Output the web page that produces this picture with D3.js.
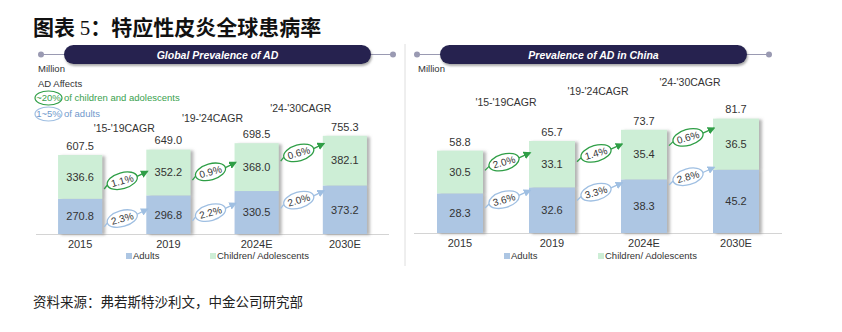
<!DOCTYPE html>
<html><head><meta charset="utf-8">
<script src="https://cdn.jsdelivr.net/npm/d3@7"></script>
<style>body{margin:0;background:#fff} svg{display:block}</style>
</head><body><svg id="c" width="842" height="332"></svg>
<script>
// ---------- data ----------
const years = ["2015", "2019", "2024E", "2030E"];
const cagrPeriods = ["'15-'19CAGR", "'19-'24CAGR", "'24-'30CAGR"];
const seriesNames = ["Adults", "Children/ Adolescents"];

const globalAdults = [270.8, 296.8, 330.5, 373.2];
const globalChildren = [336.6, 352.2, 368.0, 382.1];
const globalTotals = ["607.5", "649.0", "698.5", "755.3"];
const globalCagrChildren = ["1.1%", "0.9%", "0.6%"];
const globalCagrAdults = ["2.3%", "2.2%", "2.0%"];

const chinaAdults = [28.3, 32.6, 38.3, 45.2];
const chinaChildren = [30.5, 33.1, 35.4, 36.5];
const chinaTotals = ["58.8", "65.7", "73.7", "81.7"];
const chinaCagrChildren = ["2.0%", "1.4%", "0.6%"];
const chinaCagrAdults = ["3.6%", "3.3%", "2.8%"];

// ---------- style ----------
const C = {
  adults: "#adc6e3", children: "#cdeed6", green: "#2f9e46", blue: "#9fbfe2",
  navy: "#25234f", text: "#333333", axis: "#d4d4d4", connector: "#9a9ab2"
};
const LAT = "'Liberation Sans', Arial, sans-serif";
const CJK = "'Noto Sans CJK SC', sans-serif";

const svg = d3.select("#c");
const defs = svg.append("defs");
const sh = defs.append("filter").attr("id", "shadow").attr("x", "-20%").attr("y", "-20%").attr("width", "150%").attr("height", "150%");
sh.append("feDropShadow").attr("dx", 3).attr("dy", 1).attr("stdDeviation", 1.4).attr("flood-color", "#777").attr("flood-opacity", 0.55);
const sh2 = defs.append("filter").attr("id", "pillshadow").attr("x", "-10%").attr("y", "-40%").attr("width", "120%").attr("height", "200%");
sh2.append("feDropShadow").attr("dx", 1).attr("dy", 2).attr("stdDeviation", 1.2).attr("flood-color", "#555").attr("flood-opacity", 0.5);
[["arrG", C.green], ["arrB", C.blue]].forEach(([id, col]) => {
  defs.append("marker").attr("id", id).attr("viewBox", "0 0 10 10").attr("refX", 8).attr("refY", 5)
    .attr("markerWidth", 6).attr("markerHeight", 6).attr("orient", "auto")
    .append("path").attr("d", "M0,0 L10,5 L0,10 z").attr("fill", col);
});

// Title
const title = svg.append("text").attr("x", 33).attr("y", 35).attr("font-family", CJK).attr("font-weight", 700).attr("font-size", 21).attr("fill", "#111");
title.append("tspan").text("图表 ");
title.append("tspan").attr("font-family", "'Liberation Serif', serif").attr("font-weight", 400).text("5");
title.append("tspan").text("：特应性皮炎全球患病率");

// footer
svg.append("text").attr("x", 33).attr("y", 307).attr("font-family", CJK).attr("font-size", 13.5).attr("fill", "#222")
  .text("资料来源：弗若斯特沙利文，中金公司研究部");

// separator
svg.append("line").attr("x1", 405).attr("x2", 405).attr("y1", 44).attr("y2", 266).attr("stroke", "#dedede").attr("stroke-width", 1);

function header(x0, x1, px0, px1, label) {
  const g = svg.append("g");
  g.append("line").attr("x1", x0).attr("x2", x1).attr("y1", 54.5).attr("y2", 54.5).attr("stroke", C.connector).attr("stroke-width", 1.2);
  [x0, x1].forEach(x => g.append("circle").attr("cx", x).attr("cy", 54.5).attr("r", 3).attr("fill", C.connector));
  g.append("rect").attr("x", px0).attr("y", 45).attr("width", px1 - px0).attr("height", 19).attr("rx", 9.5)
    .attr("fill", C.navy).attr("filter", "url(#pillshadow)");
  g.append("text").attr("x", (px0 + px1) / 2).attr("y", 58.5).attr("text-anchor", "middle")
    .attr("font-family", LAT).attr("font-size", 10.5).attr("font-weight", 700).attr("font-style", "italic")
    .attr("fill", "#fff").text(label);
}

function panel(cfg) {
  const x = d3.scaleBand().domain(years).range(cfg.xRange).paddingInner(0.5).paddingOuter(0.25);
  const y = d3.scaleLinear().domain(cfg.yDomain).range([cfg.base, cfg.yTop]);
  const stackData = years.map((yr, i) => ({ year: yr, Adults: cfg.adults[i], Children: cfg.children[i] }));
  const stacked = d3.stack().keys(["Adults", "Children"])(stackData);
  const g = svg.append("g");

  // axis line
  g.append("line").attr("x1", cfg.xRange[0]).attr("x2", cfg.xRange[1]).attr("y1", cfg.base + 0.5).attr("y2", cfg.base + 0.5)
    .attr("stroke", C.axis).attr("stroke-width", 1);

  // bars with shadow
  const barG = g.selectAll("g.bar").data(years).join("g").attr("class", "bar").attr("filter", "url(#shadow)");
  barG.each(function (yr, i) {
    const bg = d3.select(this);
    stacked.forEach((s, k) => {
      const d = s[i];
      bg.append("rect").attr("x", x(yr)).attr("width", x.bandwidth())
        .attr("y", y(d[1])).attr("height", y(d[0]) - y(d[1]))
        .attr("fill", k === 0 ? C.adults : C.children);
    });
  });
  // segment labels
  stacked.forEach((s, k) => {
    g.selectAll(null).data(s).join("text")
      .attr("x", (d, i) => x(years[i]) + x.bandwidth() / 2)
      .attr("y", d => (y(d[0]) + y(d[1])) / 2).attr("dy", "0.35em")
      .attr("text-anchor", "middle").attr("font-family", LAT).attr("font-size", 11).attr("fill", C.text)
      .text((d, i) => (k === 0 ? cfg.adults[i] : cfg.children[i]).toFixed(1));
  });
  // totals
  g.selectAll(null).data(stacked[1]).join("text")
    .attr("x", (d, i) => x(years[i]) + x.bandwidth() / 2)
    .attr("y", d => y(d[1]) - 9).attr("dy", "0.35em")
    .attr("text-anchor", "middle").attr("font-family", LAT).attr("font-size", 11).attr("fill", C.text)
    .text((d, i) => cfg.totals[i]);
  // x labels
  g.selectAll(null).data(years).join("text")
    .attr("x", d => x(d) + x.bandwidth() / 2).attr("y", cfg.base + 10).attr("dy", "0.35em")
    .attr("text-anchor", "middle").attr("font-family", LAT).attr("font-size", 11).attr("fill", C.text).text(d => d);

  // CAGR headers and ellipses
  cagrPeriods.forEach((p, i) => {
    const left = x(years[i]) + x.bandwidth(), right = x(years[i + 1]);
    const gx = (left + right) / 2;
    g.append("text").attr("x", gx).attr("y", cfg.headerY[i]).attr("dy", "0.35em").attr("text-anchor", "middle")
      .attr("font-family", LAT).attr("font-size", 10.5).attr("fill", C.text).text(p);

    [["children", 1, cfg.cagrChildren, C.green, "arrG", cfg.greenNudge],
     ["adults", 0, cfg.cagrAdults, C.blue, "arrB", cfg.blueNudge]].forEach(([nm, k, labels, col, mk, nudge]) => {
      const m0 = (y(stacked[k][i][0]) + y(stacked[k][i][1])) / 2;
      const m1 = (y(stacked[k][i + 1][0]) + y(stacked[k][i + 1][1])) / 2;
      const cy = (m0 + m1) / 2 + nudge[i];
      const cx = gx - 2;
      const rx = 15.5, ry = 8, ang = -16 * Math.PI / 180;
      const lx = cx - rx * Math.cos(ang), ly = cy - rx * Math.sin(ang);
      const rxp = cx + rx * Math.cos(ang), ryp = cy + rx * Math.sin(ang);
      g.append("path").attr("d", `M${left + 2},${ly + 4} L${lx},${ly}`).attr("stroke", col).attr("stroke-width", 1.3).attr("fill", "none");
      g.append("path").attr("d", `M${rxp},${ryp} L${right + 1},${ryp - 5}`).attr("stroke", col).attr("stroke-width", 1.3)
        .attr("fill", "none").attr("marker-end", `url(#${mk})`);
      const eg = g.append("g").attr("transform", `translate(${cx},${cy}) rotate(-16)`);
      eg.append("ellipse").attr("rx", rx).attr("ry", ry).attr("fill", "#fff").attr("stroke", col).attr("stroke-width", 1.3);
      eg.append("text").attr("text-anchor", "middle").attr("dy", "0.35em").attr("font-family", LAT)
        .attr("font-size", 10).attr("fill", C.text).text(labels[i]);
    });
  });

  // legend
  const lg = g.append("g");
  cfg.legendX.forEach((lx, k) => {
    lg.append("rect").attr("x", lx).attr("y", 253).attr("width", 6).attr("height", 6).attr("fill", k === 0 ? C.adults : C.children);
    lg.append("text").attr("x", lx + 7).attr("y", 256).attr("dy", "0.35em").attr("font-family", LAT).attr("font-size", 9.5)
      .attr("fill", C.text).text(seriesNames[k]);
  });

  // unit
  g.append("text").attr("x", cfg.unitX).attr("y", 69).attr("dy", "0.35em").attr("font-family", LAT).attr("font-size", 9.5)
    .attr("fill", C.text).text("Million");
}

header(41, 393, 64, 371, "Global Prevalence of AD");
header(417, 769, 440, 747, "Prevalence of AD in China");

panel({
  xRange: [36, 389], base: 234, yDomain: [0, 800], yTop: 234 - 104,
  adults: globalAdults, children: globalChildren, totals: globalTotals,
  cagrChildren: globalCagrChildren, cagrAdults: globalCagrAdults,
  headerY: [128, 118, 108], greenNudge: [6, 2, -11], blueNudge: [3, -1, -11],
  legendX: [126, 210], unitX: 38
});
panel({
  xRange: [414, 782], base: 233, yDomain: [0, 100], yTop: 233 - 140,
  adults: chinaAdults, children: chinaChildren, totals: chinaTotals,
  cagrChildren: chinaCagrChildren, cagrAdults: chinaCagrAdults,
  headerY: [102, 91, 82], greenNudge: [-6, -6, -12], blueNudge: [-12, -16, -27],
  legendX: [504, 598], unitX: 418
});

// AD Affects legend (global panel)
const ad = svg.append("g");
ad.append("text").attr("x", 38).attr("y", 84).attr("dy", "0.35em").attr("font-family", LAT).attr("font-size", 9.5).attr("fill", C.text).text("AD Affects");
[["~20%", "of children and adolescents", C.green, "#3aa14e", 98], ["1~5%", "of adults", C.blue, "#6f98cc", 114]].forEach(([p, t, col, tc, yy]) => {
  ad.append("ellipse").attr("cx", 48.5).attr("cy", yy).attr("rx", 13.5).attr("ry", 7).attr("fill", "#fff").attr("stroke", col).attr("stroke-width", 1.2);
  ad.append("text").attr("x", 48.5).attr("y", yy).attr("dy", "0.35em").attr("text-anchor", "middle").attr("font-family", LAT)
    .attr("font-size", 9.5).attr("fill", tc).text(p);
  ad.append("text").attr("x", 64).attr("y", yy).attr("dy", "0.35em").attr("font-family", LAT).attr("font-size", 9.5).attr("fill", tc).text(t);
});
</script></body></html>
